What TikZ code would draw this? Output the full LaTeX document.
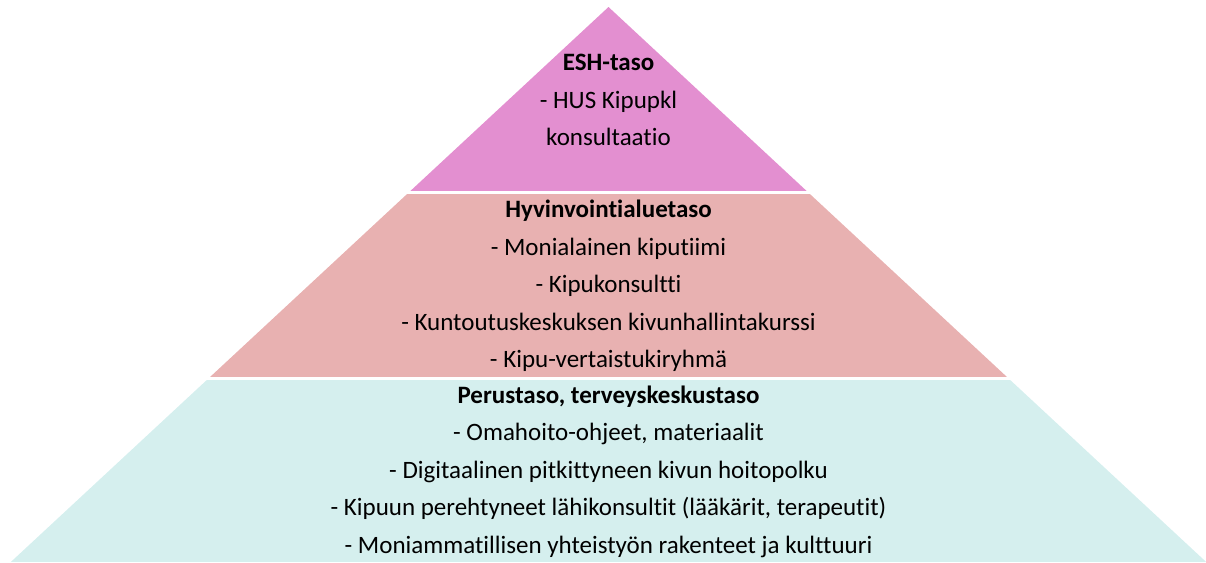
\documentclass[tikz,border=0pt]{standalone}
\usepackage{fontspec}
\setmainfont{Carlito}[Ligatures={NoCommon}]
\usepackage{tikz}
\definecolor{orchid}{RGB}{227,143,208}
\definecolor{rosy}{RGB}{232,177,177}
\definecolor{mint}{RGB}{213,239,238}
\tikzstyle{tiertext} = [align=center, inner sep=0pt, font=\fontsize{25}{37.5}\selectfont]

\begin{document}
\begin{tikzpicture}[x=1pt, y=-1pt]
        \useasboundingbox (0,0) rectangle (1206,562);
        \coordinate (apex) at (608.5,7);
        \coordinate (baseleft) at (10.8,562);
        \coordinate (baseright) at (1206.2,562);

        % three bands cut out of one triangle
        \begin{scope}
            \clip (apex) -- (baseleft) -- (baseright) -- cycle;
            \fill [orchid] (0,0) rectangle (1206,190.5);
            \fill [rosy] (0,193.5) rectangle (1206,377);
            \fill [mint] (0,380) rectangle (1206,562);
        \end{scope}

        \node (esh) [tiertext] at (608.5,100) {\textbf{ESH-taso}\\- HUS Kipupkl\\konsultaatio};
        \node (hva) [tiertext] at (608.5,286) {\textbf{Hyvinvointialuetaso}\\- Monialainen kiputiimi\\- Kipukonsultti\\- Kuntoutuskeskuksen kivunhallintakurssi\\- Kipu-vertaistukiryhmä};
        \node (perus) [tiertext] at (608.5,471.5) {\textbf{Perustaso, terveyskeskustaso}\\- Omahoito-ohjeet, materiaalit\\- Digitaalinen pitkittyneen kivun hoitopolku\\- Kipuun perehtyneet lähikonsultit (lääkärit, terapeutit)\\- Moniammatillisen yhteistyön rakenteet ja kulttuuri};
    \end{tikzpicture}
\end{document}
